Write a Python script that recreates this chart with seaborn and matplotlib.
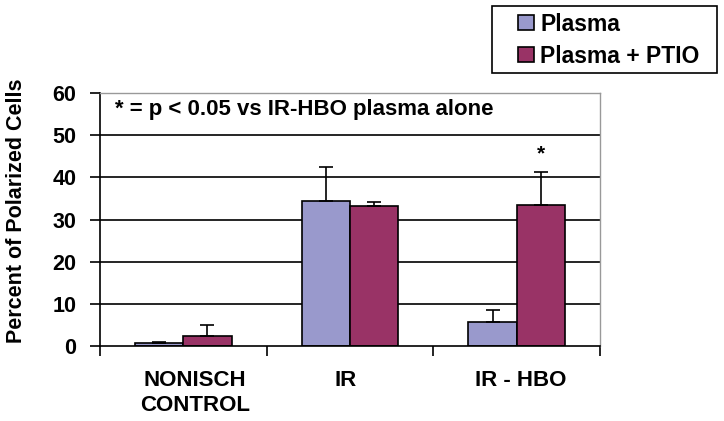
import numpy as np
import pandas as pd
import matplotlib
matplotlib.use("Agg")
import matplotlib.pyplot as plt
import matplotlib.transforms as mtransforms
import seaborn as sns

# ── Data ──────────────────────────────────────────────────────────────
CATEGORIES   = ["NONISCH\nCONTROL", "IR", "IR - HBO"]
SERIES       = ["Plasma", "Plasma + PTIO"]
PLASMA       = [0.7, 34.5, 5.6]
PLASMA_ERR   = [0.3, 8.0, 2.9]
PTIO         = [2.5, 33.1, 33.5]
PTIO_ERR     = [2.4, 1.0, 7.8]
COLORS       = ["#9999cc", "#993366"]
NOTE         = "* = p < 0.05 vs IR-HBO plasma alone"

df = pd.DataFrame({
    "group": CATEGORIES * 2,
    "series": [SERIES[0]] * 3 + [SERIES[1]] * 3,
    "value": PLASMA + PTIO,
    "err": PLASMA_ERR + PTIO_ERR,
})

# ── Plot ──────────────────────────────────────────────────────────────
sns.set_style("white")
plt.rcParams["font.family"] = ["Liberation Sans", "DejaVu Sans"]
plt.rcParams["font.weight"] = "bold"
plt.rcParams["text.color"] = "black"
plt.rcParams["axes.labelcolor"] = "black"
plt.rcParams["xtick.color"] = "black"
plt.rcParams["ytick.color"] = "black"

fig = plt.figure(figsize=(7.24, 4.21), dpi=100)
ax = fig.add_axes([0.138, 0.178, 0.691, 0.601])

sns.barplot(data=df, x="group", y="value", hue="series", order=CATEGORIES,
            hue_order=SERIES, palette=COLORS, width=0.58, saturation=1,
            edgecolor="black", linewidth=1.2, errorbar=None, ax=ax, legend=False)

# upward-only error bars
for i, s in enumerate(SERIES):
    cont = ax.containers[i]
    sub = df[df["series"] == s].set_index("group").loc[CATEGORIES]
    xs = [p.get_x() + p.get_width() / 2 for p in cont.patches]
    ax.errorbar(xs, sub["value"], yerr=[np.zeros(len(xs)), sub["err"]],
                fmt="none", ecolor="black", elinewidth=1.2, capsize=5, capthick=1.2)

ax.set_ylim(0, 60)
ax.set_xlim(-0.5, 2.5)
ax.set_yticks(range(0, 61, 10))
for y in range(10, 60, 10):
    ax.axhline(y, color="black", lw=1.2, zorder=0)

for side in ["top", "right"]:
    ax.spines[side].set_color("#999999")
    ax.spines[side].set_linewidth(1.0)
for side in ["left", "bottom"]:
    ax.spines[side].set_color("black")
    ax.spines[side].set_linewidth(1.2)

ax.set_xticks([-0.5, 0.5, 1.5, 2.5], minor=False)
ax.set_xticklabels([])
ax.set_xticks([0, 1, 2], minor=True)
ax.set_xticklabels(CATEGORIES, minor=True, fontsize=16, fontweight="bold", linespacing=1.25)
ax.tick_params(axis="x", which="major", direction="out", length=7, width=1.2, color="black", bottom=True)
ax.tick_params(axis="x", which="minor", length=0, pad=17)
ax.tick_params(axis="y", direction="out", length=7, width=1.2, color="black", left=True,
               labelsize=15.5, pad=10)
for t in ax.get_yticklabels():
    t.set_fontweight("bold")

# category labels sit slightly off-centre in the original
for lab, dx in zip(ax.get_xticklabels(minor=True), [12, -4, 4]):
    lab.set_transform(lab.get_transform() +
                      mtransforms.ScaledTranslation(dx / 100, 0, fig.dpi_scale_trans))

ax.set_xlabel("")
ax.set_ylabel("Percent of Polarized Cells", fontsize=15.5, fontweight="bold")
ax.yaxis.set_label_coords(-0.146, 0.535)

ax.text(0.03, 0.935, NOTE, transform=ax.transAxes, fontsize=16, fontweight="bold",
        va="center", ha="left")
ptio_hbo = ax.containers[1].patches[2]
ax.text(ptio_hbo.get_x() + ptio_hbo.get_width() / 2, PTIO[2] + PTIO_ERR[2] + 2, "*",
        ha="center", va="bottom", fontsize=15, fontweight="bold")

# legend: frameless entries plus a plain box around them
handles = [plt.Rectangle((0, 0), 1, 1, facecolor=c, edgecolor="black", lw=1.2) for c in COLORS]
leg = fig.legend(handles, SERIES, loc="upper left", bbox_to_anchor=(0.716, 0.970),
                 frameon=False, prop={"weight": "bold", "size": 16.5},
                 handlelength=0.7, handleheight=0.6, handletextpad=0.25,
                 borderpad=0.0, borderaxespad=0.0, labelspacing=0.4)
fig.patches.append(plt.Rectangle((0.679, 0.827), 0.311, 0.159, transform=fig.transFigure,
                                 facecolor="none", edgecolor="black", lw=1.2))

fig.savefig("out.png", dpi=100, facecolor="white")
